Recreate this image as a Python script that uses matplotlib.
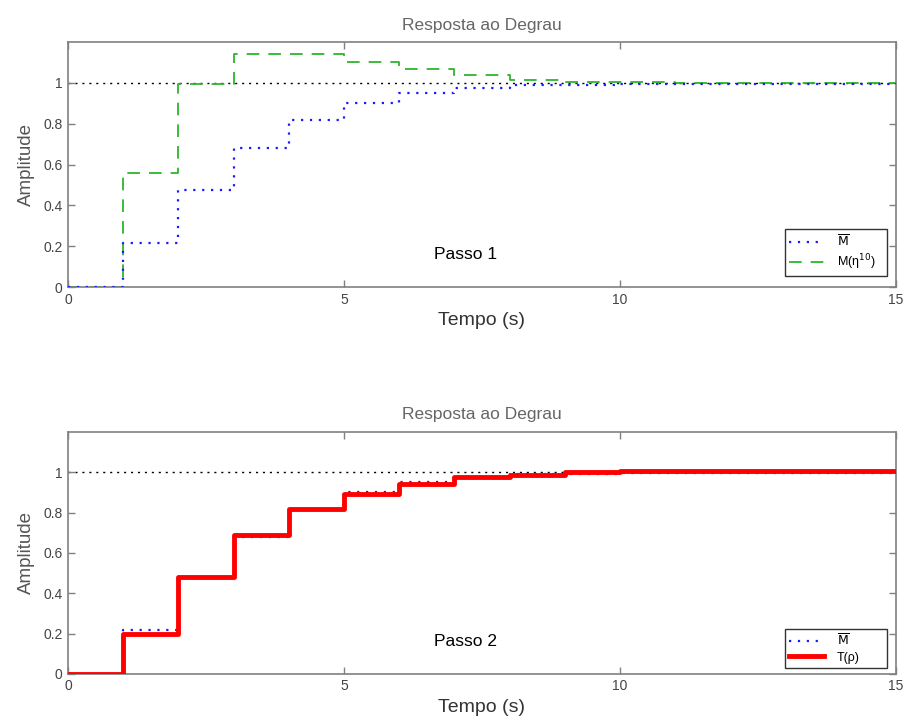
import matplotlib
matplotlib.use('Agg')
import matplotlib.pyplot as plt
import numpy as np

# discrete step responses, one sample per second (t = 0..15)
t = np.arange(0, 16)
m_bar = [0, 0.217, 0.474, 0.68, 0.82, 0.904, 0.95, 0.977, 0.99, 0.992,
         0.994, 0.995, 0.996, 0.997, 0.997, 0.998]
m_eta10 = [0, 0.557, 0.995, 1.144, 1.144, 1.105, 1.067, 1.038, 1.015, 1.007,
           1.003, 1.002, 1.001, 1.0, 1.0, 1.0]
t_rho = [0, 0.2, 0.48, 0.69, 0.82, 0.894, 0.94, 0.975, 0.986, 1.0,
         1.007, 1.007, 1.007, 1.007, 1.007, 1.007]

titles = ['Resposta ao Degrau', 'Resposta ao Degrau']
steps_text = ['Passo 1', 'Passo 2']
xticks = [0, 5, 10, 15]
yticks = [0, 0.2, 0.4, 0.6, 0.8, 1]
ytick_labels = ['0', '0.2', '0.4', '0.6', '0.8', '1']

plt.rcParams['font.family'] = ['Liberation Sans', 'DejaVu Sans']
gray = '#808080'

fig = plt.figure(figsize=(9.06, 7.27), dpi=100)
ax1 = fig.add_axes([0.075, 0.605, 0.914, 0.337])
ax2 = fig.add_axes([0.075, 0.073, 0.914, 0.333])


def style_axes(ax, title, label):
    ax.set_xlim(0, 15)
    ax.set_ylim(0, 1.2)
    ax.set_xticks(xticks)
    ax.set_yticks(yticks)
    ax.set_yticklabels(ytick_labels)
    ax.tick_params(direction='in', length=5, width=1, color=gray,
                   labelcolor='#444444', labelsize=10, top=True, right=True,
                   pad=4)
    for sp in ax.spines.values():
        sp.set_color(gray)
        sp.set_linewidth(1.2)
    ax.set_title(title, color='#666666', fontsize=12.5, pad=9)
    ax.set_xlabel('Tempo (s)', color='#333333', fontsize=14, labelpad=4)
    ax.set_ylabel('Amplitude', color='#555555', fontsize=13.5, labelpad=6)
    ax.axhline(1, color='black', lw=1, linestyle=(0, (1.5, 3.5)), zorder=1)
    ax.text(7.2, 0.16, label, ha='center', va='center', fontsize=12.5)


def add_legend(ax, y0):
    # fixed-width box in the lower right corner
    leg = ax.legend(loc='lower left', bbox_to_anchor=(0.866, y0, 0.123, 0.2),
                    mode='expand', borderaxespad=0, fontsize=9, frameon=True,
                    fancybox=False, handlelength=2.8, labelspacing=0.25,
                    borderpad=0.35, handletextpad=1.0)
    leg.get_frame().set_edgecolor('black')
    leg.get_frame().set_linewidth(1)


# Passo 1
ax1.step(t, m_bar, where='post', color='#1a1aff', lw=1.6,
         linestyle=(0, (1, 3)), label=r'$\overline{\mathrm{M}}$', zorder=3)
ax1.step(t, m_eta10, where='post', color='#2db52d', lw=1.3,
         linestyle=(0, (7, 5)), label='M(η$^{10}$)', zorder=2)
style_axes(ax1, titles[0], steps_text[0])
add_legend(ax1, 0.045)

# Passo 2
ax2.step(t, m_bar, where='post', color='#1a1aff', lw=1.6,
         linestyle=(0, (1, 3)), label=r'$\overline{\mathrm{M}}$', zorder=2)
ax2.step(t, t_rho, where='post', color='#ff0000', lw=3.5,
         label='T(ρ)', zorder=3)
style_axes(ax2, titles[1], steps_text[1])
add_legend(ax2, 0.025)

fig.savefig('out.png', dpi=100)
